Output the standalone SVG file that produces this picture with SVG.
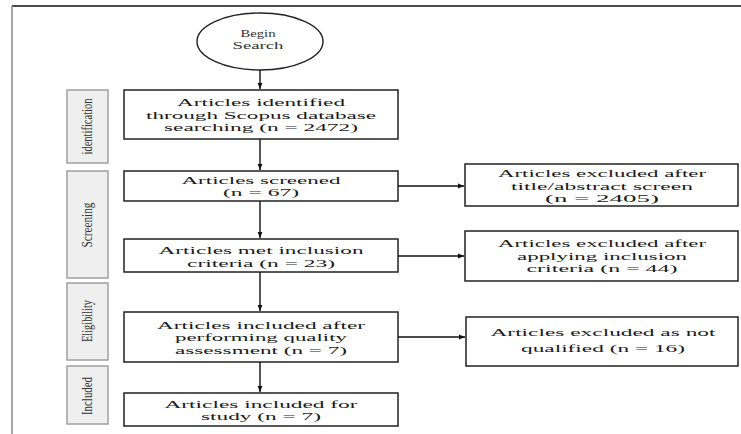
<svg xmlns="http://www.w3.org/2000/svg" width="741" height="434" viewBox="0 0 741 434">
<defs>
<style>
.box{fill:#fff;stroke:#222;stroke-width:1.5}
.side{fill:#efefef;stroke:#a0a0a0;stroke-width:1.5}
.t{font-family:"Liberation Serif","Times New Roman",serif;font-size:11px;fill:#1a1a1a;text-anchor:middle}
.s{font-family:"Liberation Serif","Times New Roman",serif;font-size:14px;fill:#333;text-anchor:middle}
.c{font-family:"Liberation Serif","Times New Roman",serif;font-size:10px;fill:#333;text-anchor:middle}
.ln{stroke:#111;stroke-width:1.4;fill:none}
</style>
<marker id="ah" viewBox="0 0 10 10" refX="10" refY="5" markerWidth="6" markerHeight="6" markerUnits="userSpaceOnUse" orient="auto">
<path d="M0,1 L10,5 L0,9 z" fill="#111"/>
</marker>
</defs>
<rect width="741" height="434" fill="#fff"/>
<line x1="12" y1="6" x2="741" y2="6" stroke="#111" stroke-width="1.5"/>
<line x1="12" y1="6" x2="12" y2="434" stroke="#888" stroke-width="1.5"/>

<g id="phase-identification">
<rect class="side" x="67" y="90" width="41" height="73"/>
<text class="s" transform="translate(92,126.5) rotate(-90)" textLength="56" lengthAdjust="spacingAndGlyphs">identification</text>
</g>
<g id="phase-screening">
<rect class="side" x="67" y="171" width="41" height="107"/>
<text class="s" transform="translate(92,225) rotate(-90)" textLength="45" lengthAdjust="spacingAndGlyphs">Screening</text>
</g>
<g id="phase-eligibility">
<rect class="side" x="67" y="283" width="41" height="77"/>
<text class="s" transform="translate(92,321) rotate(-90)" textLength="42" lengthAdjust="spacingAndGlyphs">Eligibility</text>
</g>
<g id="phase-included">
<rect class="side" x="67" y="366" width="41" height="58"/>
<text class="s" transform="translate(92,396) rotate(-90)" textLength="38" lengthAdjust="spacingAndGlyphs">Included</text>
</g>

<g id="begin">
<ellipse cx="260" cy="41.5" rx="63" ry="28.5" fill="#fff" stroke="#222" stroke-width="1.4"/>
<text class="c" x="258" y="37" textLength="35" lengthAdjust="spacingAndGlyphs">Begin</text>
<text class="c" x="258" y="49" textLength="51" lengthAdjust="spacingAndGlyphs">Search</text>
</g>

<g id="identified">
<rect class="box" x="124" y="90" width="274" height="49"/>
<text class="t" x="261" y="106" textLength="168" lengthAdjust="spacingAndGlyphs">Articles identified</text>
<text class="t" x="261" y="118.5" textLength="230" lengthAdjust="spacingAndGlyphs">through Scopus database</text>
<text class="t" x="261" y="131" textLength="194" lengthAdjust="spacingAndGlyphs">searching (n = 2472)</text>
</g>

<g id="screened">
<rect class="box" x="124" y="171" width="274" height="30"/>
<text class="t" x="261" y="183.5" textLength="159" lengthAdjust="spacingAndGlyphs">Articles screened</text>
<text class="t" x="261" y="196" textLength="76" lengthAdjust="spacingAndGlyphs">(n = 67)</text>
</g>

<g id="met-criteria">
<rect class="box" x="124" y="239" width="274" height="33"/>
<text class="t" x="261" y="254" textLength="205" lengthAdjust="spacingAndGlyphs">Articles met inclusion</text>
<text class="t" x="261" y="266.5" textLength="148" lengthAdjust="spacingAndGlyphs">criteria (n = 23)</text>
</g>

<g id="quality">
<rect class="box" x="124" y="312" width="274" height="50"/>
<text class="t" x="261" y="328.5" textLength="208" lengthAdjust="spacingAndGlyphs">Articles included after</text>
<text class="t" x="261" y="341" textLength="172" lengthAdjust="spacingAndGlyphs">performing quality</text>
<text class="t" x="261" y="353.5" textLength="172" lengthAdjust="spacingAndGlyphs">assessment (n = 7)</text>
</g>

<g id="study">
<rect class="box" x="124" y="393" width="274" height="33"/>
<text class="t" x="261" y="407.5" textLength="193" lengthAdjust="spacingAndGlyphs">Articles included for</text>
<text class="t" x="261" y="420" textLength="120" lengthAdjust="spacingAndGlyphs">study (n = 7)</text>
</g>

<g id="excluded-screen">
<rect class="box" x="465" y="164" width="273" height="42"/>
<text class="t" x="602" y="177" textLength="208" lengthAdjust="spacingAndGlyphs">Articles excluded after</text>
<text class="t" x="602" y="189.5" textLength="182" lengthAdjust="spacingAndGlyphs">title/abstract screen</text>
<text class="t" x="602" y="202" textLength="114" lengthAdjust="spacingAndGlyphs">(n = 2405)</text>
</g>

<g id="excluded-criteria">
<rect class="box" x="465" y="231" width="273" height="50"/>
<text class="t" x="602" y="247" textLength="208" lengthAdjust="spacingAndGlyphs">Articles excluded after</text>
<text class="t" x="602" y="259.5" textLength="170" lengthAdjust="spacingAndGlyphs">applying inclusion</text>
<text class="t" x="602" y="272" textLength="151" lengthAdjust="spacingAndGlyphs">criteria (n = 44)</text>
</g>

<g id="excluded-quality">
<rect class="box" x="466" y="317" width="272" height="49"/>
<text class="t" x="603" y="336" textLength="225" lengthAdjust="spacingAndGlyphs">Articles excluded as not</text>
<text class="t" x="603" y="352" textLength="164" lengthAdjust="spacingAndGlyphs">qualified (n = 16)</text>
</g>

<g id="connectors">
<line class="ln" x1="260" y1="70" x2="260" y2="89" marker-end="url(#ah)"/>
<line class="ln" x1="260" y1="139" x2="260" y2="170" marker-end="url(#ah)"/>
<line class="ln" x1="260" y1="201" x2="260" y2="238" marker-end="url(#ah)"/>
<line class="ln" x1="260" y1="272" x2="260" y2="311" marker-end="url(#ah)"/>
<line class="ln" x1="260" y1="362" x2="260" y2="392" marker-end="url(#ah)"/>
<line class="ln" x1="398" y1="186" x2="464" y2="186" marker-end="url(#ah)"/>
<line class="ln" x1="398" y1="256" x2="464" y2="256" marker-end="url(#ah)"/>
<line class="ln" x1="398" y1="337" x2="465" y2="337" marker-end="url(#ah)"/>
</g>
</svg>
